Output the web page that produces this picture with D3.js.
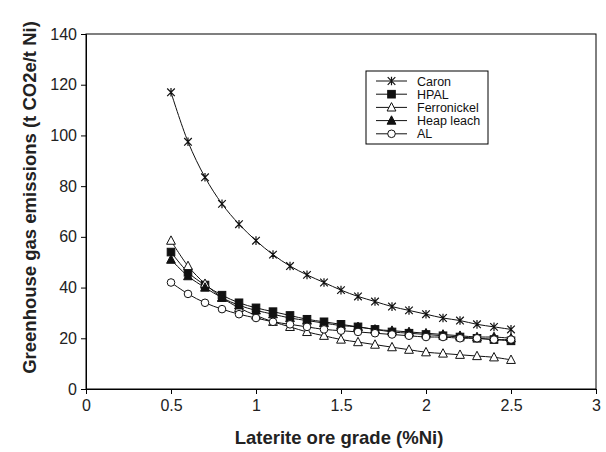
<!DOCTYPE html>
<html>
<head>
<meta charset="utf-8">
<script src="https://cdn.jsdelivr.net/npm/d3@7"></script>
<style>
  body { margin: 0; background: #fff; }
  text { font-family: "Liberation Sans", Arial, sans-serif; }
</style>
</head>
<body>
<div id="chart"></div>
<script>
var grades = [0.5, 0.6, 0.7, 0.8, 0.9, 1.0, 1.1, 1.2, 1.3, 1.4, 1.5, 1.6, 1.7, 1.8, 1.9, 2.0, 2.1, 2.2, 2.3, 2.4, 2.5]
var caron = [117, 97.5, 83.5, 73, 65, 58.5, 53, 48.5, 45, 42, 39, 36.5, 34.5, 32.5, 31, 29.5, 28, 27, 25.5, 24.5, 23.5]
var hpal = [54, 46, 41, 37, 34, 32, 30.5, 29, 27.5, 26.5, 25.5, 24.5, 23.5, 22.5, 22, 21.5, 21, 20.5, 20, 19.5, 19]
var ferronickel = [58.5, 48.5, 41.5, 36, 32, 29, 26.5, 24.5, 22.5, 21, 19.5, 18.5, 17.5, 16.5, 15.5, 14.5, 14, 13.5, 13, 12.5, 11.5]
var heapLeach = [51, 44.5, 40, 36, 33, 31, 29.5, 28, 27, 26, 25, 24.5, 23.5, 23, 22.5, 22, 21.5, 21, 20.5, 20.5, 20]
var al = [42, 37.5, 34, 31.5, 29.5, 28, 26.5, 25.5, 24.5, 23.5, 23, 22.5, 22, 21.5, 21, 20.5, 20.5, 20, 20, 19.5, 19.5]
var xTicks = [0, 0.5, 1, 1.5, 2, 2.5, 3]
var yTicks = [0, 20, 40, 60, 80, 100, 120, 140]

var series = [
  { name: "Caron", values: caron, marker: "star" },
  { name: "HPAL", values: hpal, marker: "square" },
  { name: "Ferronickel", values: ferronickel, marker: "triOpen" },
  { name: "Heap leach", values: heapLeach, marker: "triFilled" },
  { name: "AL", values: al, marker: "circle" }
]

var W = 606, H = 452
var margin = { top: 34, right: 10, bottom: 63, left: 86 }
var width = W - margin.left - margin.right,
  height = H - margin.top - margin.bottom

var svg = d3.select("#chart")
  .append("svg")
  .attr("width", W)
  .attr("height", H)

var g = svg.append("g")
  .attr("transform", "translate(" + margin.left + "," + margin.top + ")")

var x = d3.scaleLinear().domain([0, 3]).range([0, width])
var y = d3.scaleLinear().domain([0, 140]).range([height, 0])

// frame
g.append("rect")
  .attr("width", width)
  .attr("height", height)
  .attr("fill", "none")
  .attr("stroke", "#000")
  .attr("stroke-width", 1)

var xAxis = g.append("g")
  .attr("transform", "translate(0," + height + ")")
  .call(d3.axisBottom(x).tickValues(xTicks).tickSize(5).tickPadding(6).tickFormat(d3.format("")))
var yAxis = g.append("g")
  .call(d3.axisLeft(y).tickValues(yTicks).tickSize(5).tickPadding(4))

;[xAxis, yAxis].forEach(function (a) {
  a.select(".domain").attr("stroke", "#000")
  a.selectAll(".tick line").attr("stroke", "#000")
  a.selectAll(".tick text")
    .attr("fill", "#222")
    .style("font-size", "16px")
})

function drawMarker(sel, type) {
  var s = 3.8
  if (type === "star") {
    sel.append("path")
      .attr("d", "M" + -s + "," + -s + "L" + s + "," + s + "M" + -s + "," + s + "L" + s + "," + -s + "M0," + (-s - 0.5) + "L0," + (s + 0.5))
      .attr("stroke", "#111").attr("stroke-width", 1.2).attr("fill", "none")
  } else if (type === "square") {
    sel.append("rect")
      .attr("x", -s).attr("y", -s).attr("width", 2 * s).attr("height", 2 * s)
      .attr("fill", "#111").attr("stroke", "#111")
  } else if (type === "triOpen" || type === "triFilled") {
    sel.append("path")
      .attr("d", "M0," + (-s - 1) + "L" + (s + 0.6) + "," + (s - 0.2) + "L" + (-s - 0.6) + "," + (s - 0.2) + "Z")
      .attr("fill", type === "triOpen" ? "#fff" : "#111")
      .attr("stroke", "#111").attr("stroke-width", 1)
  } else {
    sel.append("circle")
      .attr("r", s)
      .attr("fill", "#fff").attr("stroke", "#111").attr("stroke-width", 1)
  }
}

var line = d3.line()
  .x(function (d) { return x(d[0]) })
  .y(function (d) { return y(d[1]) })
  .curve(d3.curveCatmullRom)

series.forEach(function (s) {
  var pts = grades.map(function (gr, i) { return [gr, s.values[i]] })
  g.append("path")
    .datum(pts)
    .attr("d", line)
    .attr("fill", "none")
    .attr("stroke", "#111")
    .attr("stroke-width", 1)
})

series.forEach(function (s) {
  var pts = grades.map(function (gr, i) { return [gr, s.values[i]] })
  g.selectAll(".m-" + s.marker)
    .data(pts)
    .enter()
    .append("g")
    .attr("transform", function (d) { return "translate(" + x(d[0]) + "," + y(d[1]) + ")" })
    .each(function () { drawMarker(d3.select(this), s.marker) })
})

// legend
var legend = svg.append("g").attr("transform", "translate(366,71)")
legend.append("rect")
  .attr("width", 122).attr("height", 73)
  .attr("fill", "#fff").attr("stroke", "#000")
series.forEach(function (s, i) {
  var row = legend.append("g").attr("transform", "translate(0," + (10 + i * 13.2) + ")")
  row.append("line").attr("x1", 10).attr("x2", 41).attr("stroke", "#111")
  var m = row.append("g").attr("transform", "translate(25.5,0)")
  drawMarker(m, s.marker)
  row.append("text")
    .attr("x", 51).attr("y", 4.5)
    .style("font-size", "12.5px")
    .attr("fill", "#111")
    .text(s.name)
})

svg.append("text")
  .attr("x", margin.left + width / 2 - 2)
  .attr("y", 444)
  .attr("text-anchor", "middle")
  .style("font-size", "18.5px")
  .style("font-weight", "bold")
  .attr("fill", "#222")
  .text("Laterite ore grade (%Ni)")

svg.append("text")
  .attr("transform", "translate(36," + (margin.top + height / 2 - 14) + ") rotate(-90)")
  .attr("text-anchor", "middle")
  .style("font-size", "18.5px")
  .style("font-weight", "bold")
  .attr("fill", "#222")
  .text("Greenhouse gas emissions (t CO2e/t Ni)")
</script>
</body>
</html>
